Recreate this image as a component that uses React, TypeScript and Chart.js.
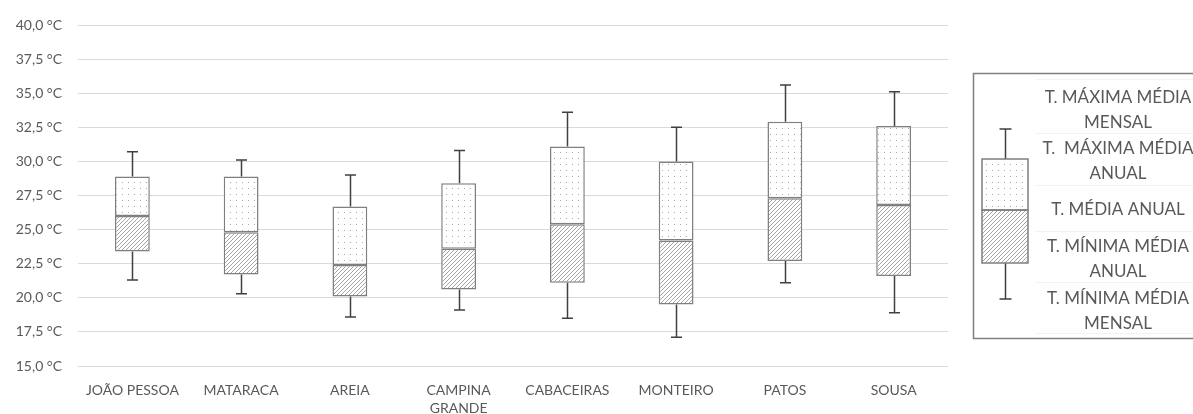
import React, { useEffect, useRef } from "react";
import { Chart, registerables } from "chart.js";

Chart.register(...registerables);

// Stations along the x axis
const categories: (string | string[])[] = [
  "JOÃO PESSOA",
  "MATARACA",
  "AREIA",
  ["CAMPINA", "GRANDE"],
  "CABACEIRAS",
  "MONTEIRO",
  "PATOS",
  "SOUSA",
];

// Temperatures in °C
const maxMensal = [30.7, 30.1, 29.0, 30.8, 33.6, 32.5, 35.6, 35.1];
const maxAnual = [28.9, 28.9, 26.7, 28.4, 31.1, 30.0, 32.9, 32.6];
const mediaAnual = [26.0, 24.8, 22.4, 23.6, 25.4, 24.2, 27.3, 26.8];
const minAnual = [23.4, 21.7, 20.1, 20.6, 21.1, 19.5, 22.7, 21.6];
const minMensal = [21.3, 20.3, 18.6, 19.1, 18.5, 17.1, 21.1, 18.9];

// Y axis range and step
const yMin = 15;
const yMax = 40;
const yStep = 2.5;

const legendLines: string[][] = [
  ["T. MÁXIMA MÉDIA", "MENSAL"],
  ["T.  MÁXIMA MÉDIA", "ANUAL"],
  ["T. MÉDIA ANUAL"],
  ["T. MÍNIMA MÉDIA", "ANUAL"],
  ["T. MÍNIMA MÉDIA", "MENSAL"],
];

const FONT = "Lato, 'Open Sans', sans-serif";
const TEXT = "#595959";
const BOX_BORDER = "#7f7f7f";
const WHISKER = "#404040";

function makeHatch(): CanvasPattern | string {
  const c = document.createElement("canvas");
  c.width = 4;
  c.height = 4;
  const g = c.getContext("2d");
  if (!g) return "#ddd";
  g.fillStyle = "#ffffff";
  g.fillRect(0, 0, 4, 4);
  g.strokeStyle = "#9a9a9a";
  g.lineWidth = 0.9;
  g.beginPath();
  g.moveTo(-1, 5);
  g.lineTo(5, -1);
  g.moveTo(-1, 1);
  g.lineTo(1, -1);
  g.moveTo(3, 5);
  g.lineTo(5, 3);
  g.stroke();
  return g.createPattern(c, "repeat") || "#ddd";
}

function makeDots(): CanvasPattern | string {
  const c = document.createElement("canvas");
  c.width = 6;
  c.height = 6;
  const g = c.getContext("2d");
  if (!g) return "#fff";
  g.fillStyle = "#ffffff";
  g.fillRect(0, 0, 6, 6);
  g.fillStyle = "#a8a8a8";
  g.fillRect(2, 2, 1, 1);
  return g.createPattern(c, "repeat") || "#fff";
}

function drawWhisker(
  ctx: CanvasRenderingContext2D,
  x: number,
  yFrom: number,
  yTo: number,
  cap: number
) {
  ctx.beginPath();
  ctx.moveTo(x, yFrom);
  ctx.lineTo(x, yTo);
  ctx.moveTo(x - cap / 2, yTo);
  ctx.lineTo(x + cap / 2, yTo);
  ctx.stroke();
}

export default function App() {
  const ref = useRef<HTMLCanvasElement | null>(null);

  useEffect(() => {
    if (!ref.current) return;
    const hatch = makeHatch();
    const dots = makeDots();

    // Whiskers from the box edges to the monthly extremes
    const whiskers = {
      id: "whiskers",
      beforeDatasetsDraw(chart: any) {
        const { ctx, scales } = chart;
        const xs = scales.x;
        const ys = scales.y;
        ctx.save();
        ctx.strokeStyle = WHISKER;
        ctx.lineWidth = 1.5;
        for (let i = 0; i < categories.length; i++) {
          const x = Math.round(xs.getPixelForValue(i)) + 0.5;
          drawWhisker(ctx, x, ys.getPixelForValue(maxAnual[i]), ys.getPixelForValue(maxMensal[i]), 11);
          drawWhisker(ctx, x, ys.getPixelForValue(minAnual[i]), ys.getPixelForValue(minMensal[i]), 11);
        }
        ctx.restore();
      },
    };

    // Key explaining the parts of a box
    const boxKey = {
      id: "boxKey",
      afterDraw(chart: any) {
        const { ctx, chartArea } = chart;
        const left = chartArea.right + 25;
        const top = chartArea.top + 48;
        const height = 265;
        ctx.save();
        ctx.fillStyle = "#ffffff";
        ctx.fillRect(left, top, 260, height);

        // faint row separators
        ctx.strokeStyle = "#f2f2f2";
        ctx.lineWidth = 1;
        [6, 60, 112, 158, 209, 260].forEach((dy) => {
          ctx.beginPath();
          ctx.moveTo(left + 62, top + dy + 0.5);
          ctx.lineTo(left + 260, top + dy + 0.5);
          ctx.stroke();
        });

        ctx.strokeStyle = BOX_BORDER;
        ctx.lineWidth = 1.5;
        ctx.strokeRect(left + 0.5, top + 0.5, 260, height);

        const bx = left + 9;
        const bw = 46;
        const cx = Math.round(bx + bw / 2) + 0.5;
        const yTop = top + 56;
        const yQ3 = top + 86;
        const yMed = top + 137;
        const yQ1 = top + 190;
        const yBot = top + 226;

        ctx.strokeStyle = WHISKER;
        ctx.lineWidth = 1.5;
        drawWhisker(ctx, cx, yQ3, yTop, 12);
        drawWhisker(ctx, cx, yQ1, yBot, 12);

        ctx.fillStyle = dots;
        ctx.fillRect(bx, yQ3, bw, yMed - yQ3);
        ctx.fillStyle = hatch;
        ctx.fillRect(bx, yMed, bw, yQ1 - yMed);
        ctx.strokeStyle = BOX_BORDER;
        ctx.lineWidth = 1.5;
        ctx.strokeRect(bx, yQ3, bw, yMed - yQ3);
        ctx.strokeRect(bx, yMed, bw, yQ1 - yMed);

        ctx.fillStyle = TEXT;
        ctx.font = `17px ${FONT}`;
        ctx.textAlign = "center";
        ctx.textBaseline = "middle";
        const tx = left + 145;
        const rowCenters = [37, 88, 137, 186, 238];
        legendLines.forEach((lines, r) => {
          const lh = 25;
          const start = top + rowCenters[r] - ((lines.length - 1) * lh) / 2;
          lines.forEach((t, k) => ctx.fillText(t, tx, start + k * lh));
        });
        ctx.restore();
      },
    };

    const chart = new Chart(ref.current, {
      type: "bar",
      data: {
        labels: categories as any,
        datasets: [
          {
            label: "T. MÍNIMA MÉDIA ANUAL – T. MÉDIA ANUAL",
            data: minAnual.map((v, i) => [v, mediaAnual[i]]) as any,
            backgroundColor: hatch as any,
            borderColor: BOX_BORDER,
            borderWidth: 1.5,
            borderSkipped: false,
            grouped: false,
            categoryPercentage: 1,
            barPercentage: 0.32,
          },
          {
            label: "T. MÉDIA ANUAL – T. MÁXIMA MÉDIA ANUAL",
            data: mediaAnual.map((v, i) => [v, maxAnual[i]]) as any,
            backgroundColor: dots as any,
            borderColor: BOX_BORDER,
            borderWidth: 1.5,
            borderSkipped: false,
            grouped: false,
            categoryPercentage: 1,
            barPercentage: 0.32,
          },
        ],
      },
      options: {
        animation: false,
        responsive: false,
        layout: { padding: { left: 0, top: 25, right: 245, bottom: 0 } },
        plugins: {
          legend: { display: false },
          tooltip: { enabled: false },
        },
        scales: {
          x: {
            grid: { display: false },
            border: { display: false },
            ticks: {
              color: TEXT,
              font: { family: FONT, size: 14, lineHeight: 1.3 },
              padding: 7,
              maxRotation: 0,
              autoSkip: false,
            },
            afterFit: (s: any) => {
              s.height = 48;
            },
          },
          y: {
            min: yMin,
            max: yMax,
            grid: { color: "#d9d9d9", lineWidth: 1, drawTicks: false },
            border: { display: false },
            ticks: {
              stepSize: yStep,
              color: TEXT,
              font: { family: FONT, size: 14 },
              padding: 16,
              callback: (v: any) => Number(v).toFixed(1).replace(".", ",") + " °C",
            },
            afterFit: (s: any) => {
              s.width = 78;
            },
          },
        },
      },
      plugins: [whiskers, boxKey],
    });
    return () => chart.destroy();
  }, []);

  return (
    <div style={{ position: "fixed", left: 0, top: 0, width: 1193, height: 414, background: "#ffffff" }}>
      <canvas ref={ref} width={1193} height={414} style={{ display: "block" }} />
    </div>
  );
}
